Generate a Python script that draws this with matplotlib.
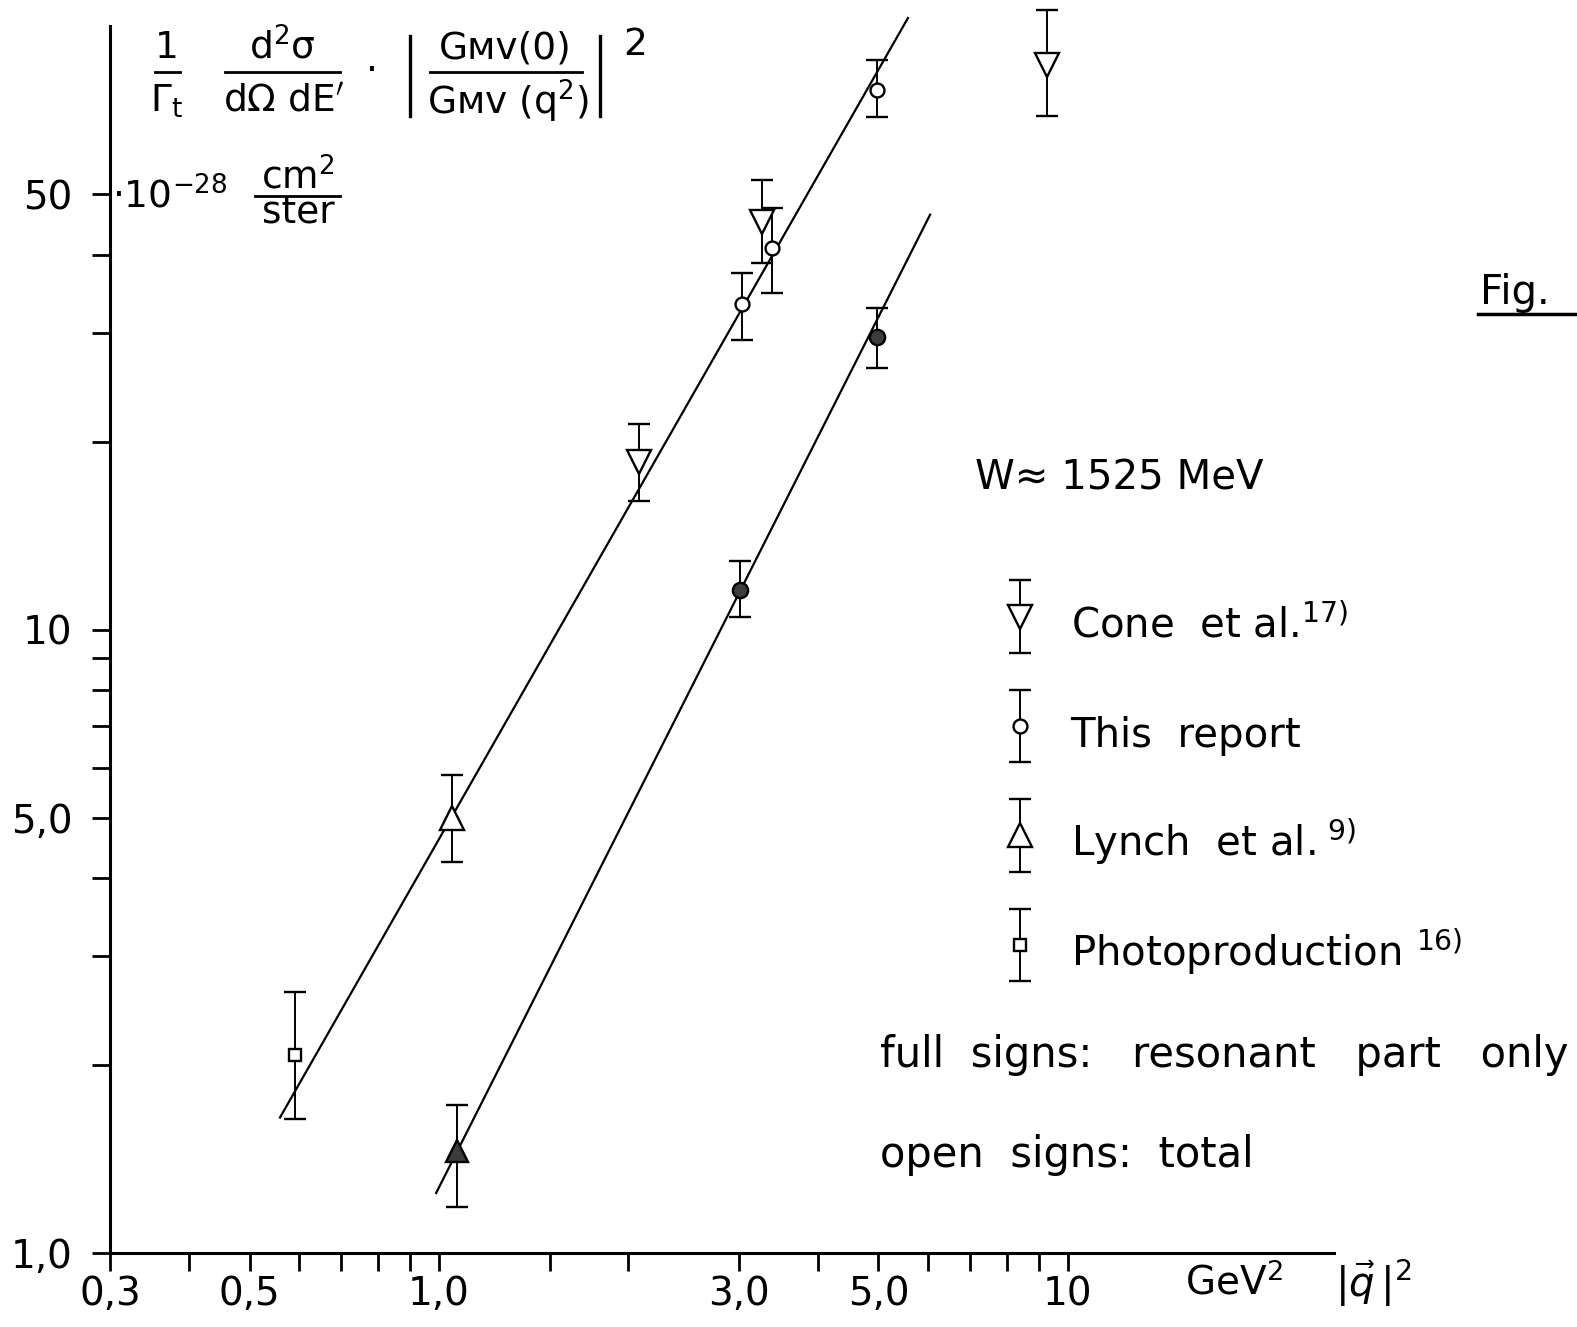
import matplotlib.pyplot as plt
from matplotlib.lines import Line2D
from matplotlib.ticker import NullFormatter
from matplotlib.legend_handler import HandlerErrorbar
from matplotlib.container import ErrorbarContainer

plt.rcParams["font.family"] = ["DejaVu Sans"]
plt.rcParams["mathtext.fontset"] = "dejavusans"

W, H = 1577, 1327

# open signs: total
cone_x = [2.08, 3.26, 9.26]
cone_y = [18.6, 45.2, 80.7]
cone_lo = [16.1, 38.8, 66.8]
cone_hi = [21.4, 52.8, 98.9]

report_x = [3.03, 3.38, 4.97]
report_y = [33.4, 41.0, 73.6]
report_lo = [29.2, 34.8, 66.6]
report_hi = [37.4, 47.6, 82.2]

lynch_x = [1.05]
lynch_y = [4.99]
lynch_lo = [4.24]
lynch_hi = [5.85]

photo_x = [0.59]
photo_y = [2.08]
photo_lo = [1.64]
photo_hi = [2.62]

# full signs: resonant part only
res_report_x = [3.01, 4.97]
res_report_y = [11.6, 29.5]
res_report_lo = [10.5, 26.3]
res_report_hi = [12.9, 32.9]

res_lynch_x = [1.07]
res_lynch_y = [1.46]
res_lynch_lo = [1.185]
res_lynch_hi = [1.73]

# straight-line fits
fit_total_x = [0.559, 5.57]
fit_total_y = [1.65, 96.0]
fit_res_x = [0.99, 6.04]
fit_res_y = [1.248, 46.4]

x_major = [0.3, 0.5, 1.0, 3.0, 5.0, 10.0]
x_major_labels = ["0,3", "0,5", "1,0", "3,0", "5,0", "10"]
x_minor = [0.4, 0.6, 0.7, 0.8, 0.9, 1.5, 2.0, 4.0, 6.0, 7.0, 8.0, 9.0]
y_major = [1.0, 5.0, 10.0, 50.0]
y_major_labels = ["1,0", "5,0", "10", "50"]
y_minor = [2, 3, 4, 6, 7, 8, 9, 20, 30, 40]

legend_labels = ["Cone  et al.$^{17)}$", "This  report",
                 "Lynch  et al.$^{\\ 9)}$", "Photoproduction $^{16)}$"]


def yerr(y, lo, hi):
    return [[v - l for v, l in zip(y, lo)], [h - v for v, h in zip(y, hi)]]


def ftext(px, py, s, **kw):
    kw.setdefault("ha", "center")
    kw.setdefault("va", "center")
    kw.setdefault("fontsize", 27)
    fig.text(px / W, 1 - py / H, s, **kw)


def fline(x0, x1, y0, y1, lw=2.0):
    fig.add_artist(Line2D([x0 / W, x1 / W], [1 - y0 / H, 1 - y1 / H],
                          transform=fig.transFigure, color="black", lw=lw))


fig = plt.figure(figsize=(W / 100, H / 100), dpi=100)
ax = fig.add_axes([110 / W, 74 / H, (1334 - 110) / W, (1253 - 26) / H])
ax.set_xscale("log")
ax.set_yscale("log")
ax.set_xlim(0.3, 26.5)
ax.set_ylim(1.0, 93.2)

ax.plot(fit_total_x, fit_total_y, color="black", lw=1.6, clip_on=False)
ax.plot(fit_res_x, fit_res_y, color="black", lw=1.6, clip_on=False)

style = dict(linestyle="none", ecolor="black", elinewidth=1.4, capsize=8,
             capthick=2.4, mec="black", mew=1.7)

c_cone = ax.errorbar(cone_x, cone_y, yerr=yerr(cone_y, cone_lo, cone_hi),
                     fmt="v", ms=17, mfc="white", label=legend_labels[0], **style)
c_rep = ax.errorbar(report_x, report_y, yerr=yerr(report_y, report_lo, report_hi),
                    fmt="o", ms=10, mfc="white", label=legend_labels[1], **style)
c_lyn = ax.errorbar(lynch_x, lynch_y, yerr=yerr(lynch_y, lynch_lo, lynch_hi),
                    fmt="^", ms=17, mfc="white", label=legend_labels[2], **style)
c_pho = ax.errorbar(photo_x, photo_y, yerr=yerr(photo_y, photo_lo, photo_hi),
                    fmt="s", ms=9, mfc="white", label=legend_labels[3], **style)
c_rr = ax.errorbar(res_report_x, res_report_y,
                   yerr=yerr(res_report_y, res_report_lo, res_report_hi),
                   fmt="o", ms=11, mfc="#3c3c3c", **style)
c_rl = ax.errorbar(res_lynch_x, res_lynch_y,
                   yerr=yerr(res_lynch_y, res_lynch_lo, res_lynch_hi),
                   fmt="^", ms=16, mfc="#3c3c3c", **style)
for cont in [c_cone, c_rep, c_lyn, c_pho, c_rr, c_rl]:
    for art in cont.get_children():
        art.set_clip_on(False)

# axes look
for side in ["top", "right"]:
    ax.spines[side].set_visible(False)
for side in ["left", "bottom"]:
    ax.spines[side].set_linewidth(2.2)

ax.set_xticks(x_major)
ax.set_xticklabels(x_major_labels)
ax.set_xticks(x_minor, minor=True)
ax.xaxis.set_minor_formatter(NullFormatter())
ax.set_yticks(y_major)
ax.set_yticklabels(y_major_labels)
ax.set_yticks(y_minor, minor=True)
ax.yaxis.set_minor_formatter(NullFormatter())
ax.tick_params(which="both", direction="out", length=13, width=2.0)
ax.tick_params(axis="x", labelsize=28, pad=3)
ax.tick_params(axis="y", labelsize=28, pad=14)

# legend
leg = ax.legend(handles=[c_cone, c_rep, c_lyn, c_pho], loc="upper left",
                bbox_to_anchor=(996 / W, 1 - 596 / H),
                bbox_transform=fig.transFigure, frameon=False, fontsize=29,
                numpoints=1, handlelength=1.2, handleheight=1.8,
                handletextpad=0.65, labelspacing=1.3, borderpad=0,
                borderaxespad=0,
                handler_map={ErrorbarContainer: HandlerErrorbar(yerr_size=0.9)})

# annotations
ftext(975, 478, "W≈ 1525 MeV", ha="left", fontsize=29)
ftext(880, 1055, "full  signs:   resonant   part   only", ha="left", fontsize=30)
ftext(880, 1155, "open  signs:  total", ha="left", fontsize=30)
ftext(1480, 293, "Fig.", ha="left", fontsize=29)
fline(1478, 1577, 314, 314, lw=2.5)

ftext(1185, 1283, "GeV$^2$", ha="left", fontsize=28)
ftext(1335, 1283, r"$|\vec{q}\,|^2$", ha="left", fontsize=29)

# y-axis quantity (top-left)
ftext(167, 48, "1")
fline(155, 180, 72, 72)
ftext(167, 101, r"$\Gamma_\mathrm{t}$")
ftext(282, 48, "d$^2$σ")
fline(225, 340, 72, 72)
ftext(284, 101, "dΩ dE$^{\\prime}$")
ftext(372, 72, "·")
fline(410, 410, 36, 116, lw=2.4)
ftext(505, 48, "Gᴍᴠ(0)")
fline(430, 582, 72, 72)
ftext(508, 101, "Gᴍᴠ (q$^2$)")
fline(600, 600, 36, 116, lw=2.4)
ftext(635, 45, "2")
ftext(112, 197, "·10$^{-28}$", ha="left")
ftext(298, 178, "cm$^2$")
fline(255, 340, 196, 196)
ftext(298, 213, "ster")

fig.savefig("out.png", dpi=100)
